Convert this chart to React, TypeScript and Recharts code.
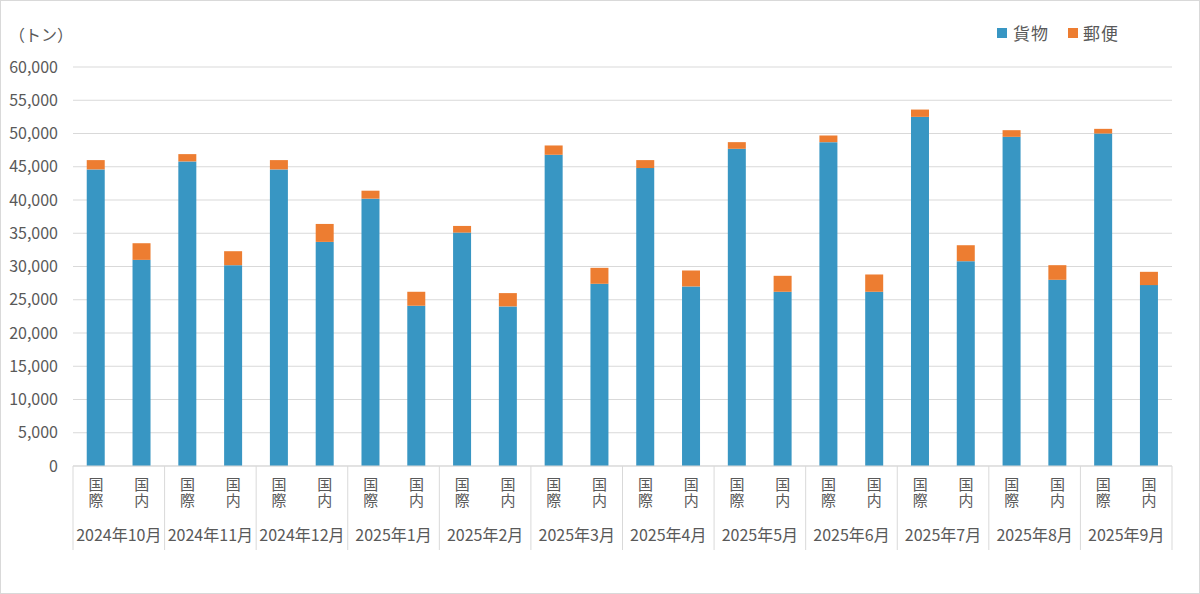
import React from "react";
import { BarChart, Bar, XAxis, YAxis, CartesianGrid } from "recharts";

// 月と区分
const months = [
  "2024年10月", "2024年11月", "2024年12月", "2025年1月", "2025年2月", "2025年3月",
  "2025年4月", "2025年5月", "2025年6月", "2025年7月", "2025年8月", "2025年9月",
];
const routes = ["国際", "国内"];

// 貨物 / 郵便 (トン), 各月 国際・国内 の順
const cargo = [
  44600, 31000, 45800, 30200, 44600, 33700, 40200, 24100, 35100, 24000, 46800, 27400,
  44800, 27000, 47700, 26200, 48700, 26200, 52500, 30800, 49500, 28000, 50000, 27200,
];
const mail = [
  1400, 2500, 1100, 2100, 1400, 2700, 1200, 2100, 1000, 2000, 1400, 2400,
  1200, 2400, 1000, 2400, 1000, 2600, 1100, 2400, 1000, 2200, 700, 2000,
];
const yTicks = [0, 5000, 10000, 15000, 20000, 25000, 30000, 35000, 40000, 45000, 50000, 55000, 60000];

const BLUE = "#3896c3";
const ORANGE = "#ed7d31";
const TEXT = "#595959";
const GRID = "#d9d9d9";
const FONT = "'Noto Sans CJK JP', 'Noto Sans', sans-serif";

const W = 1200;
const H = 594;
const margin = { top: 67, right: 28, left: 0, bottom: 38 };
const Y_W = 73;
const PLOT_W = W - margin.left - margin.right - Y_W;

const data = cargo.map((c, i) => ({
  key: `${months[Math.floor(i / 2)]}-${routes[i % 2]}`,
  route: routes[i % 2],
  month: months[Math.floor(i / 2)],
  貨物: c,
  郵便: mail[i],
}));

const CAT_W = PLOT_W / data.length;

const RouteTick = (props: any) => {
  const { x, y, index } = props;
  const d = data[index];
  if (!d) return null;
  return (
    <g>
      {/* 縦書きの区分ラベル */}
      <text
        x={x}
        y={y + 11}
        fontSize={15}
        fill={TEXT}
        fontFamily={FONT}
        letterSpacing={1}
        style={{ writingMode: "vertical-rl" }}
      >
        {d.route}
      </text>
      {index % 2 === 0 && (
        <>
          <line x1={x - CAT_W / 2} x2={x - CAT_W / 2} y1={y} y2={y + 84} stroke={GRID} />
          <text x={x + CAT_W / 2} y={y + 75} textAnchor="middle" fontSize={16} fill={TEXT} fontFamily={FONT}>
            {d.month}
          </text>
        </>
      )}
      {index === data.length - 1 && (
        <line x1={x + CAT_W / 2} x2={x + CAT_W / 2} y1={y} y2={y + 84} stroke={GRID} />
      )}
    </g>
  );
};

export default function App() {
  return (
    <div style={{ position: "absolute", left: 0, top: 0, width: W, height: H, background: "#fff", fontFamily: FONT }}>
      <BarChart width={W} height={H} data={data} margin={margin} barCategoryGap="30%">
        <CartesianGrid vertical={false} stroke={GRID} />
        <XAxis
          dataKey="key"
          interval={0}
          height={90}
          tickSize={0}
          tickMargin={0}
          tickLine={false}
          axisLine={{ stroke: GRID }}
          tick={<RouteTick />}
        />
        <YAxis
          width={Y_W}
          domain={[0, 60000]}
          ticks={yTicks}
          axisLine={false}
          tickLine={false}
          tickSize={6}
          tickMargin={9}
          tickFormatter={(v: number) => v.toLocaleString("en-US")}
          tick={{ fill: TEXT, fontSize: 16, fontFamily: FONT }}
        />
        <Bar dataKey="貨物" stackId="a" fill={BLUE} isAnimationActive={false} />
        <Bar dataKey="郵便" stackId="a" fill={ORANGE} isAnimationActive={false} />
      </BarChart>

      <div style={{ position: "absolute", left: 9, top: 22, fontSize: 16, color: TEXT }}>（トン）</div>

      <div style={{ position: "absolute", left: 997, top: 20, display: "flex", alignItems: "center", fontSize: 17, color: TEXT, letterSpacing: 1 }}>
        <span style={{ width: 10, height: 10, background: BLUE, display: "inline-block", marginRight: 6 }} />
        <span style={{ marginRight: 19 }}>貨物</span>
        <span style={{ width: 10, height: 10, background: ORANGE, display: "inline-block", marginRight: 5 }} />
        <span>郵便</span>
      </div>

      <div style={{ position: "absolute", left: 0, top: 0, width: W, height: H, boxSizing: "border-box", border: `1px solid ${GRID}`, pointerEvents: "none" }} />
    </div>
  );
}
